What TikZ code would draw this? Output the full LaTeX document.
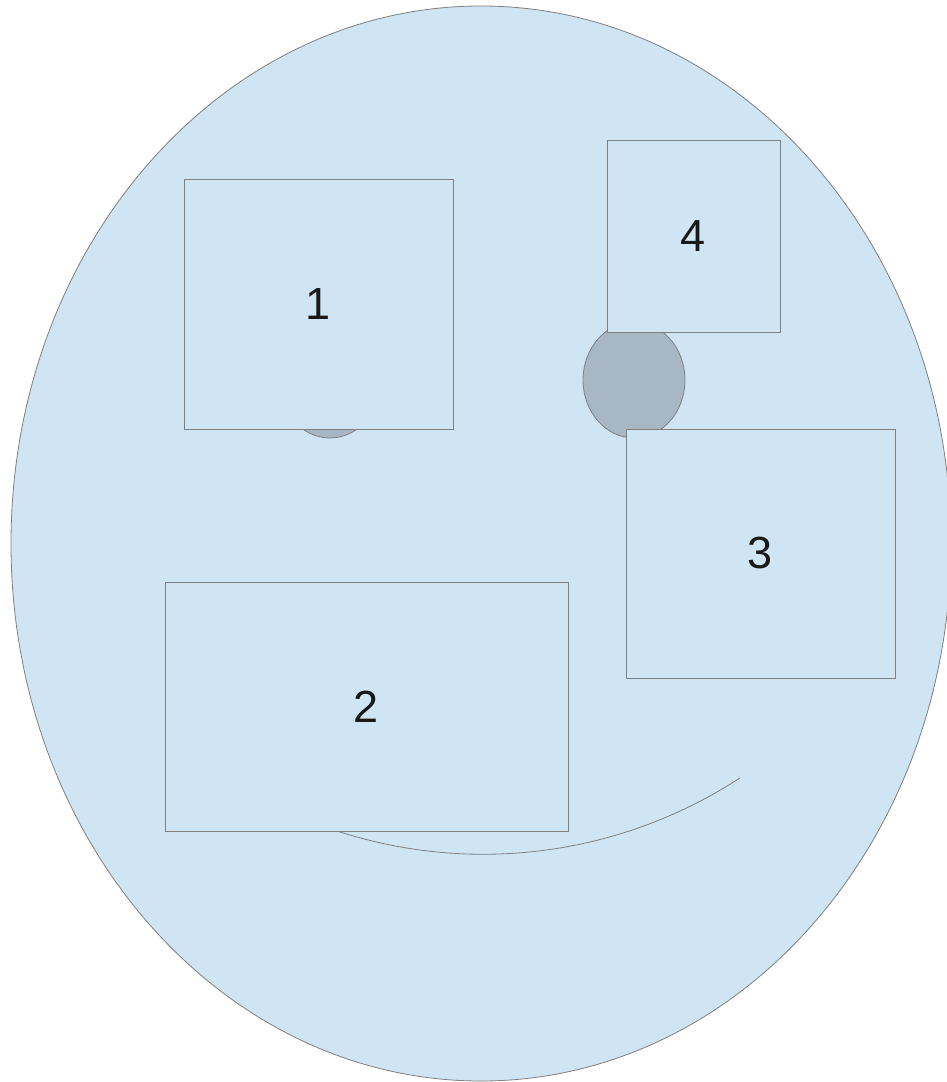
\documentclass[tikz,border=0pt]{standalone}
\usepackage{fontspec}
\setmainfont{Liberation Sans}
\usetikzlibrary{shapes.geometric}

\definecolor{facefill}{HTML}{CFE5F3}
\definecolor{eyefill}{HTML}{A7B8C4}
\definecolor{edge}{HTML}{7F7F7F}

\begin{document}
\begin{tikzpicture}
  [x=1pt,y=-1pt,
   every node/.style={draw=edge,fill=facefill,line width=0.8pt},
   box/.style={rectangle,inner sep=0pt,text=black!90,font=\fontsize{45}{54}\selectfont},
   eye/.style={ellipse,fill=eyefill,minimum width=102pt,minimum height=116pt}]
  \useasboundingbox (0,0) rectangle (946,1082);

  % face, eyes and mouth
  \node[ellipse,minimum width=940pt,minimum height=1075pt] (face) at (481,543.5) {};
  \node[eye] (leye) at (330,380) {};
  \node[eye] (reye) at (634,380) {};
  \draw[edge,line width=0.8pt] (226.5,778) arc[start angle=123.1,end angle=56.9,radius=470];

  % numbered boxes
\foreach \name/\x/\y/\w/\h/\lbl in
{b1/318.5/304/269/250/1, b2/366.5/706.5/403/249/2,
 b3/760.5/553.5/269/249/3, b4/693.5/236/173/192/4}
    \node[box,minimum width=\w pt,minimum height=\h pt] (\name) at (\x,\y) {\lbl};

\end{tikzpicture}
\end{document}
